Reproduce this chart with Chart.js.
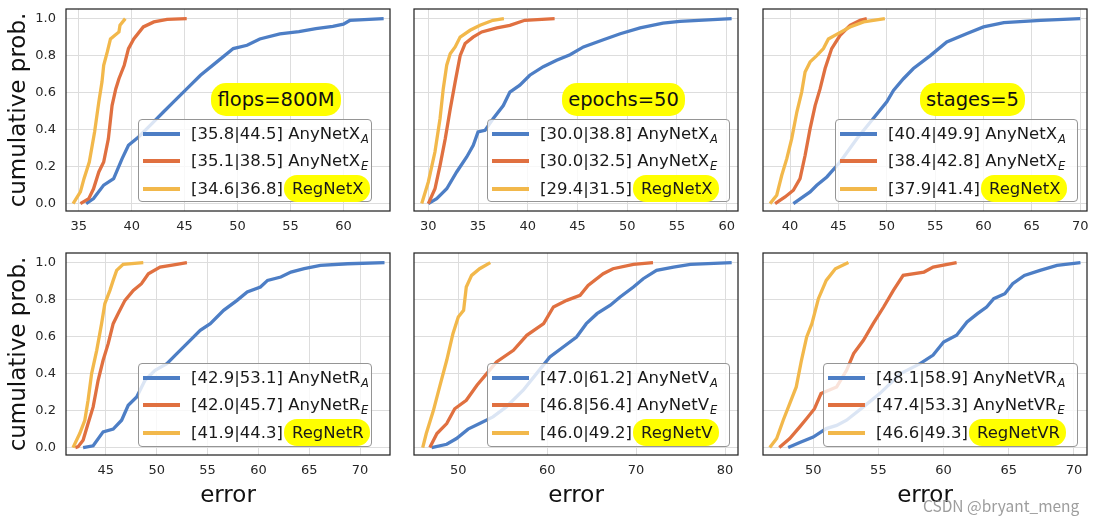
<!DOCTYPE html>
<html>
<head>
<meta charset="utf-8">
<script src="https://cdn.jsdelivr.net/npm/chart.js@4.4.0/dist/chart.umd.min.js"></script>
<style>
html,body{margin:0;padding:0;background:#fff;}
#wrap{position:relative;width:1095px;height:525px;overflow:hidden;background:#fff;font-family:"DejaVu Sans",sans-serif;}
#wrap canvas{position:absolute;}
.leg{position:absolute;box-sizing:border-box;border:1px solid #959595;border-radius:4px;background:rgba(255,255,255,0.8);}
.row{position:absolute;left:0;right:0;height:22px;}
.swatch{position:absolute;left:4px;top:9px;width:37px;height:4px;}
.txt{position:absolute;left:52px;top:0;line-height:22px;font-size:16.5px;white-space:nowrap;color:#1a1a1a;}
.sub{font-size:11.5px;font-style:italic;position:relative;top:4px;margin-left:1px;}
.hl{background:#ffff00;border-radius:13px;padding:4px 6px 4px 8px;margin-left:1px;}
.pill{position:absolute;background:#ffff00;border-radius:15px;display:flex;align-items:center;justify-content:center;font-size:19.5px;color:#111;white-space:nowrap;}
.wm{position:absolute;font-family:"Noto Sans CJK SC","Noto Sans",sans-serif;font-size:15.5px;color:rgba(140,140,140,0.85);white-space:nowrap;}
</style>
</head>
<body>
<div id="wrap"></div>
<script>
// ---------------- DATA (error, cumulative prob.) ----------------
// Panel 1: flops=800M
const flopsA = [[35.7,0],[36.4,0.027],[37.36,0.1],[38.3,0.135],[39.1,0.243],[39.7,0.315],[40.65,0.36],[41.75,0.423],[43.0,0.495],[43.96,0.55],[45.2,0.62],[46.5,0.694],[48.05,0.766],[49.6,0.838],[50.9,0.856],[52.1,0.89],[54.0,0.918],[55.8,0.93],[57.4,0.946],[59.0,0.958],[60.0,0.97],[60.6,0.99],[63.8,1.0]];
const flopsE = [[35.16,0],[35.95,0.027],[36.4,0.08],[36.9,0.171],[37.36,0.225],[37.8,0.35],[38.15,0.53],[38.5,0.62],[38.8,0.675],[39.3,0.748],[39.7,0.838],[40.2,0.89],[41.1,0.955],[42.1,0.982],[43.35,0.996],[45.2,1.0]];
const flopsReg = [[34.47,0],[35.16,0.063],[35.5,0.135],[36.0,0.225],[36.5,0.387],[36.9,0.55],[37.2,0.658],[37.36,0.748],[37.7,0.82],[38.0,0.89],[38.8,0.928],[38.9,0.964],[39.4,1.0]];
// Panel 2: epochs=50
const epochsA = [[30.0,0],[30.84,0.027],[31.85,0.08],[32.85,0.171],[33.86,0.252],[34.52,0.315],[35.0,0.387],[35.7,0.396],[36.53,0.46],[37.54,0.53],[38.2,0.603],[39.2,0.64],[40.2,0.694],[41.56,0.74],[42.9,0.775],[44.25,0.805],[45.6,0.847],[47.6,0.886],[49.3,0.918],[51.3,0.95],[53.6,0.976],[55.3,0.985],[58.6,0.995],[60.5,1.0]];
const epochsE = [[30.0,0],[30.67,0.08],[31.18,0.207],[31.7,0.35],[32.2,0.51],[32.7,0.658],[33.2,0.8],[33.7,0.865],[34.5,0.9],[35.37,0.928],[36.9,0.95],[38.2,0.964],[39.7,0.991],[42.7,1.0]];
const epochsReg = [[29.34,0],[30.0,0.117],[30.67,0.28],[31.18,0.46],[31.5,0.62],[31.85,0.748],[32.2,0.81],[32.7,0.847],[33.2,0.9],[34.2,0.937],[35.2,0.964],[36.5,0.991],[37.6,1.0]];
// Panel 3: stages=5
const stagesA = [[40.34,0],[42.07,0.063],[42.76,0.099],[43.8,0.144],[45.17,0.225],[46.9,0.351],[48.6,0.46],[50.0,0.55],[50.69,0.612],[51.72,0.675],[52.75,0.73],[54.5,0.8],[56.2,0.874],[58.3,0.92],[60.0,0.955],[62.1,0.978],[65.9,0.991],[70.0,1.0]];
const stagesE = [[38.45,0],[39.48,0.036],[40.34,0.072],[41.03,0.135],[41.55,0.26],[42.07,0.405],[42.59,0.53],[43.1,0.62],[43.62,0.73],[44.3,0.838],[45.17,0.91],[46.2,0.964],[47.24,0.991],[47.93,1.0]];
const stagesReg = [[37.93,0],[38.62,0.045],[39.14,0.153],[39.66,0.243],[40.17,0.351],[40.7,0.495],[41.2,0.603],[41.55,0.711],[42.07,0.766],[42.76,0.8],[43.45,0.838],[43.96,0.89],[45.0,0.92],[46.2,0.955],[47.6,0.982],[49.8,1.0]];
// Panel 4: AnyNetR
const resA = [[42.76,0],[43.75,0.01],[44.73,0.085],[45.72,0.1],[46.55,0.148],[47.2,0.229],[48.03,0.274],[48.85,0.364],[49.84,0.418],[51.0,0.454],[51.98,0.508],[52.97,0.562],[54.28,0.634],[55.27,0.67],[56.58,0.742],[57.9,0.796],[58.9,0.841],[60.2,0.868],[60.9,0.904],[62.2,0.922],[63.2,0.949],[64.5,0.967],[66.1,0.985],[68.8,0.994],[72.4,1.0]];
const resE = [[42.0,0],[42.27,0.005],[42.76,0.04],[43.25,0.13],[43.75,0.22],[44.24,0.364],[44.73,0.472],[45.23,0.562],[45.72,0.67],[46.2,0.724],[46.88,0.796],[47.7,0.85],[48.5,0.886],[49.18,0.94],[50.33,0.976],[51.98,0.991],[52.97,1.0]];
const resReg = [[41.77,0],[42.43,0.076],[42.93,0.148],[43.25,0.256],[43.6,0.4],[44.1,0.526],[44.58,0.67],[44.9,0.778],[45.4,0.85],[45.72,0.904],[46.06,0.958],[46.7,0.991],[48.68,1.0]];
// Panel 5: AnyNetV
const vA = [[47.0,0],[48.7,0.018],[49.8,0.049],[51.1,0.1],[52.4,0.13],[53.9,0.166],[55.4,0.22],[57.3,0.31],[58.8,0.4],[60.3,0.49],[61.8,0.544],[63.3,0.598],[64.4,0.67],[65.6,0.724],[67.1,0.77],[68.2,0.814],[69.7,0.868],[70.8,0.913],[72.3,0.958],[74.2,0.976],[76.1,0.991],[80.75,1.0]];
const vE = [[46.8,0],[47.6,0.076],[48.7,0.13],[49.6,0.21],[50.9,0.256],[52.1,0.337],[53.2,0.4],[54.3,0.463],[56.2,0.526],[57.7,0.607],[59.6,0.67],[60.7,0.76],[62.2,0.796],[63.7,0.823],[64.6,0.877],[66.3,0.94],[67.4,0.967],[69.7,0.991],[71.9,1.0]];
const vReg = [[46.0,0],[46.4,0.076],[47.2,0.2],[47.9,0.328],[48.7,0.472],[49.4,0.616],[50.0,0.706],[50.6,0.742],[50.9,0.868],[51.5,0.931],[52.4,0.967],[53.6,1.0]];
// Panel 6: AnyNetVR
const vrA = [[48.08,0],[48.97,0.027],[50.0,0.057],[51.0,0.103],[51.8,0.12],[52.56,0.148],[53.85,0.22],[55.1,0.292],[56.7,0.4],[58.2,0.454],[59.2,0.5],[60.0,0.571],[61.0,0.607],[61.8,0.679],[62.6,0.724],[63.3,0.76],[63.85,0.805],[64.7,0.832],[65.3,0.886],[66.2,0.931],[67.4,0.958],[68.7,0.985],[70.5,1.0]];
const vrE = [[47.4,0],[48.2,0.049],[48.97,0.112],[49.5,0.157],[50.1,0.21],[50.6,0.292],[51.8,0.328],[52.56,0.418],[53.1,0.508],[53.85,0.58],[54.6,0.67],[55.4,0.76],[56.15,0.85],[56.9,0.931],[58.5,0.949],[59.2,0.976],[61.0,1.0]];
const vrReg = [[46.67,0],[47.2,0.049],[47.7,0.148],[48.2,0.238],[48.7,0.328],[49.1,0.472],[49.5,0.598],[49.9,0.67],[50.4,0.805],[51.0,0.904],[51.7,0.967],[52.7,1.0]];

// tick labels
const probTicks = [0, 0.2, 0.4, 0.6, 0.8, 1.0];
const flopsTicks = [35, 40, 45, 50, 55, 60];
const epochsTicks = [30, 35, 40, 45, 50, 55, 60];
const stagesTicks = [40, 45, 50, 55, 60, 65, 70];
const resTicks = [45, 50, 55, 60, 65, 70];
const vTicks = [50, 60, 70, 80];
const vrTicks = [50, 55, 60, 65, 70];

// legend texts
const panelTitles = ["flops=800M", "epochs=50", "stages=5", null, null, null];
const legendStats = [
  ["[35.8|44.5]", "[35.1|38.5]", "[34.6|36.8]"],
  ["[30.0|38.8]", "[30.0|32.5]", "[29.4|31.5]"],
  ["[40.4|49.9]", "[38.4|42.8]", "[37.9|41.4]"],
  ["[42.9|53.1]", "[42.0|45.7]", "[41.9|44.3]"],
  ["[47.0|61.2]", "[46.8|56.4]", "[46.0|49.2]"],
  ["[48.1|58.9]", "[47.4|53.3]", "[46.6|49.3]"]
];
const familyNames = ["AnyNetX", "AnyNetX", "AnyNetX", "AnyNetR", "AnyNetV", "AnyNetVR"];
const regNames = ["RegNetX", "RegNetX", "RegNetX", "RegNetR", "RegNetV", "RegNetVR"];
const subs = ["A", "E"];
const yTitle = "cumulative prob.";
const xTitle = "error";

// ---------------- STYLE / LAYOUT ----------------
const colors = ["#4d7ec5", "#e07040", "#f2b84b"];
const FONT = '"DejaVu Sans", sans-serif';
const padT = 4, padR = 8, plotW = 324, plotH = 202;
const layout = [
  {plotLeft: 66, plotTop: 9, yW: 66, xH: 30, xMin: 33.8, xMax: 64.4, ticks: flopsTicks, series: [flopsA, flopsE, flopsReg], yLab: true, xLab: false,
   leg: {l: 138, t: 119, w: 234, h: 83}, pill: {l: 211, t: 83, w: 130, h: 33}},
  {plotLeft: 414, plotTop: 9, yW: 6, xH: 30, xMin: 28.56, xMax: 61.14, ticks: epochsTicks, series: [epochsA, epochsE, epochsReg], yLab: false, xLab: false,
   leg: {l: 487, t: 119, w: 243, h: 83}, pill: {l: 562, t: 83, w: 123, h: 33}},
  {plotLeft: 763, plotTop: 9, yW: 6, xH: 30, xMin: 37.2, xMax: 70.7, ticks: stagesTicks, series: [stagesA, stagesE, stagesReg], yLab: false, xLab: false,
   leg: {l: 835, t: 119, w: 243, h: 83}, pill: {l: 920, t: 83, w: 105, h: 33}},
  {plotLeft: 66, plotTop: 253, yW: 66, xH: 55, xMin: 41.08, xMax: 72.94, ticks: resTicks, series: [resA, resE, resReg], yLab: true, xLab: true,
   leg: {l: 138, t: 363, w: 234, h: 84}},
  {plotLeft: 414, plotTop: 253, yW: 6, xH: 55, xMin: 45.02, xMax: 81.46, ticks: vTicks, series: [vA, vE, vReg], yLab: false, xLab: true,
   leg: {l: 487, t: 363, w: 243, h: 84}},
  {plotLeft: 763, plotTop: 253, yW: 6, xH: 55, xMin: 46.15, xMax: 71.0, ticks: vrTicks, series: [vrA, vrE, vrReg], yLab: false, xLab: true,
   leg: {l: 823, t: 363, w: 255, h: 84}}
];

const framePlugin = {
  id: 'frame',
  afterDatasetsDraw(chart) {
    const {ctx, chartArea: {left, top, right, bottom}} = chart;
    ctx.save();
    ctx.strokeStyle = '#262626';
    ctx.lineWidth = 1.25;
    ctx.strokeRect(left, top, right - left, bottom - top);
    ctx.restore();
  }
};

const wrap = document.getElementById('wrap');

layout.forEach((p, i) => {
  const cv = document.createElement('canvas');
  const W = p.yW + plotW + padR, H = padT + plotH + p.xH;
  cv.width = W; cv.height = H;
  cv.style.width = W + 'px'; cv.style.height = H + 'px';
  cv.style.left = (p.plotLeft - p.yW) + 'px';
  cv.style.top = (p.plotTop - padT) + 'px';
  wrap.appendChild(cv);

  const names = [familyNames[i] + '_A', familyNames[i] + '_E', regNames[i]];
  const datasets = p.series.map((s, k) => ({
    label: legendStats[i][k] + ' ' + names[k],
    data: s.map(([x, y]) => ({x, y})),
    borderColor: colors[k],
    backgroundColor: colors[k],
    borderWidth: 3.3,
    pointRadius: 0,
    tension: 0,
    fill: false,
    order: 3 - k
  }));

  new Chart(cv, {
    type: 'line',
    data: {datasets},
    options: {
      responsive: false,
      animation: false,
      devicePixelRatio: 1,
      layout: {padding: {top: padT, right: padR, left: 0, bottom: 0}},
      plugins: {legend: {display: false}, tooltip: {enabled: false}},
      scales: {
        x: {
          type: 'linear', bounds: 'data', min: p.xMin, max: p.xMax,
          afterBuildTicks: (a) => { a.ticks = p.ticks.map(v => ({value: v})); },
          afterFit: (s) => { s.height = p.xH; s.paddingLeft = 0; s.paddingRight = 0; },
          grid: {color: '#dddddd', lineWidth: 1, drawTicks: false},
          border: {display: false},
          ticks: {autoSkip: false, maxRotation: 0, padding: 8, color: '#262626', font: {family: FONT, size: 13}, callback: v => String(v)},
          title: {display: p.xLab, text: xTitle, color: '#111', font: {family: FONT, size: 23}, padding: {top: 0, bottom: 0}}
        },
        y: {
          type: 'linear', bounds: 'data', min: -0.04, max: 1.052,
          afterBuildTicks: (a) => { a.ticks = probTicks.map(v => ({value: v})); },
          afterFit: (s) => { s.width = p.yW; s.paddingTop = 0; s.paddingBottom = 0; },
          grid: {color: '#dddddd', lineWidth: 1, drawTicks: false},
          border: {display: false},
          ticks: {display: p.yLab, autoSkip: false, padding: 10, color: '#262626', font: {family: FONT, size: 13}, callback: v => Number(v).toFixed(1)},
          title: {display: p.yLab, text: yTitle, color: '#111', font: {family: FONT, size: 23}, padding: {top: 5, bottom: 0}}
        }
      }
    },
    plugins: [framePlugin]
  });

  // legend overlay (real text)
  const lg = document.createElement('div');
  lg.className = 'leg';
  Object.assign(lg.style, {left: p.leg.l + 'px', top: p.leg.t + 'px', width: p.leg.w + 'px', height: p.leg.h + 'px'});
  const rowOff = [14.5, 42, 69.5];
  for (let k = 0; k < 3; k++) {
    const row = document.createElement('div');
    row.className = 'row';
    row.style.top = (rowOff[k] - 1 - 11) + 'px';
    const sw = document.createElement('div');
    sw.className = 'swatch';
    sw.style.background = colors[k];
    row.appendChild(sw);
    const tx = document.createElement('div');
    tx.className = 'txt';
    if (k < 2) {
      tx.innerHTML = legendStats[i][k] + ' ' + familyNames[i] + '<span class="sub">' + subs[k] + '</span>';
    } else {
      tx.innerHTML = legendStats[i][k] + '<span class="hl">' + regNames[i] + '</span>';
    }
    row.appendChild(tx);
    lg.appendChild(row);
  }
  wrap.appendChild(lg);

  if (panelTitles[i] && p.pill) {
    const pl = document.createElement('div');
    pl.className = 'pill';
    Object.assign(pl.style, {left: p.pill.l + 'px', top: p.pill.t + 'px', width: p.pill.w + 'px', height: p.pill.h + 'px'});
    pl.textContent = panelTitles[i];
    wrap.appendChild(pl);
  }
});

const wm = document.createElement('div');
wm.className = 'wm';
wm.style.left = '923px';
wm.style.top = '494px';
wm.textContent = 'CSDN @bryant_meng';
wrap.appendChild(wm);
</script>
</body>
</html>
